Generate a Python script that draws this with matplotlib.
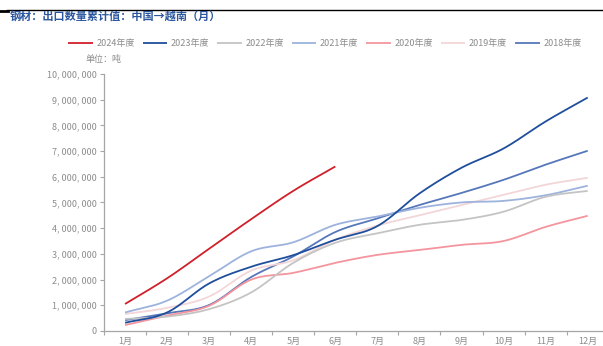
import numpy as np
import matplotlib
matplotlib.use('Agg')
import matplotlib.pyplot as plt
from matplotlib.ticker import FuncFormatter

plt.rcParams['font.family'] = ['Noto Sans CJK SC', 'DejaVu Sans']

# ── Data (cumulative tonnes) ─────────────────────────────────────
months = ['1月', '2月', '3月', '4月', '5月', '6月', '7月', '8月', '9月', '10月', '11月', '12月']

y2024 = [1.05e6, 2.05e6, 3.20e6, 4.35e6, 5.45e6, 6.40e6]
y2023 = [0.32e6, 0.72e6, 1.85e6, 2.50e6, 2.95e6, 3.55e6, 4.08e6, 5.35e6, 6.35e6, 7.10e6, 8.15e6, 9.08e6]
y2022 = [0.47e6, 0.56e6, 0.85e6, 1.50e6, 2.65e6, 3.43e6, 3.80e6, 4.13e6, 4.32e6, 4.64e6, 5.22e6, 5.45e6]
y2021 = [0.72e6, 1.18e6, 2.13e6, 3.10e6, 3.45e6, 4.13e6, 4.45e6, 4.79e6, 5.00e6, 5.06e6, 5.28e6, 5.65e6]
y2020 = [0.23e6, 0.60e6, 0.98e6, 2.00e6, 2.26e6, 2.65e6, 2.96e6, 3.15e6, 3.35e6, 3.50e6, 4.05e6, 4.48e6]
y2019 = [0.66e6, 0.90e6, 1.34e6, 2.35e6, 2.75e6, 3.55e6, 4.10e6, 4.50e6, 4.90e6, 5.30e6, 5.69e6, 5.96e6]
y2018 = [0.42e6, 0.69e6, 1.01e6, 2.10e6, 2.90e6, 3.85e6, 4.38e6, 4.90e6, 5.37e6, 5.88e6, 6.47e6, 7.01e6]

series = [
    ('2024年度', y2024, '#D0202A'),
    ('2023年度', y2023, '#1F4E9C'),
    ('2022年度', y2022, '#C4C4C4'),
    ('2021年度', y2021, '#9DB3DD'),
    ('2020年度', y2020, '#F4959D'),
    ('2019年度', y2019, '#F3D6D8'),
    ('2018年度', y2018, '#5677BA'),
]

GRAY = '#8C8C8C'


def smooth(xs, ys, n=20):
    # Catmull-Rom curve through the points, for an Excel-like smooth line
    xs = np.asarray(xs, float); ys = np.asarray(ys, float)
    px = np.concatenate([[2 * xs[0] - xs[1]], xs, [2 * xs[-1] - xs[-2]]])
    py = np.concatenate([[2 * ys[0] - ys[1]], ys, [2 * ys[-1] - ys[-2]]])
    ox, oy = [], []
    t = np.linspace(0, 1, n, endpoint=False)
    for i in range(1, len(px) - 2):
        for p, o in ((px, ox), (py, oy)):
            p0, p1, p2, p3 = p[i - 1], p[i], p[i + 1], p[i + 2]
            o.extend(0.5 * (2 * p1 + (-p0 + p2) * t + (2 * p0 - 5 * p1 + 4 * p2 - p3) * t ** 2
                            + (-p0 + 3 * p1 - 3 * p2 + p3) * t ** 3))
    ox.append(xs[-1]); oy.append(ys[-1])
    return np.array(ox), np.array(oy)


fig = plt.figure(figsize=(6.03, 3.46), dpi=100, facecolor='white')

# top rule + title
fig.add_artist(plt.Line2D([0.012, 1.0], [0.9725, 0.9725], color='black', lw=1.0))
fig.add_artist(plt.Line2D([0.0, 0.013], [0.968, 0.968], color='black', lw=2.0))
fig.text(0.016, 0.953, '钢材：出口数量累计值：中国→越南（月）', color='#2B569E',
         fontsize=8, fontweight='bold', va='center', ha='left')

ax = fig.add_axes([0.1725, 0.0434, 0.837, 0.743])

for name, vals, col in reversed(series):
    xs, ys = smooth(np.arange(len(vals)), vals)
    ax.plot(xs, ys, color=col, lw=1.3, label=name, solid_capstyle='butt')

ax.set_xlim(-0.5, 11.5)
ax.set_ylim(0, 1e7)
ax.set_xticks(np.arange(len(months)))
ax.set_xticklabels(months)
ax.set_xticks(np.arange(-0.5, 11.5, 1), minor=True)
ax.tick_params(axis='x', which='major', length=0, pad=4, labelsize=6.5, colors=GRAY)
ax.tick_params(axis='x', which='minor', length=3, color='#A6A6A6', width=0.8)
ax.set_yticks(np.arange(0, 1.0e7 + 1, 1e6))
ax.yaxis.set_major_formatter(FuncFormatter(lambda v, p: f'{int(v):,}'.replace(',', ', ')))
ax.tick_params(axis='y', length=3, color='#A6A6A6', width=0.8, labelsize=6.5,
               labelcolor=GRAY, pad=2)
for s in ('top', 'right'):
    ax.spines[s].set_visible(False)
for s in ('left', 'bottom'):
    ax.spines[s].set_color('#A6A6A6')
    ax.spines[s].set_linewidth(0.9)

fig.text(0.141, 0.829, '单位：吨', color=GRAY, fontsize=6.5, va='center', ha='left')

# legend in original order
handles, labels = ax.get_legend_handles_labels()
order = [labels.index(s[0]) for s in series]
fig.legend([handles[i] for i in order], [labels[i] for i in order],
           loc='center left', bbox_to_anchor=(0.113, 0.873), ncol=7, frameon=False,
           fontsize=6.5, labelcolor=GRAY, handlelength=2.7, handletextpad=0.4,
           columnspacing=0.9, borderaxespad=0, borderpad=0)

fig.savefig('out.png', dpi=100, facecolor='white')
